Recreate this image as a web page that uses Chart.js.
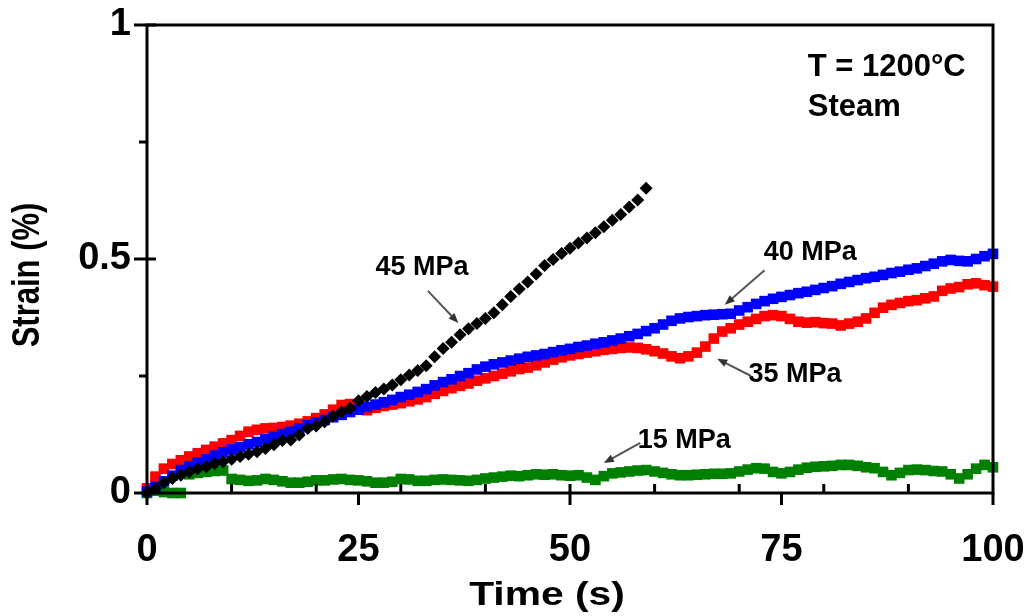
<!DOCTYPE html>
<html>
<head>
<meta charset="utf-8">
<script src="https://cdn.jsdelivr.net/npm/chart.js@4.4.1/dist/chart.umd.min.js"></script>
<style>
  html, body { margin: 0; padding: 0; background: #fff; }
  #wrap { width: 1028px; height: 616px; }
</style>
</head>
<body>
<div id="wrap"><canvas id="chart" width="1028" height="616"></canvas></div>
<script>
// time in seconds, one reading per second
var timeS = [0,1,2,3,4,5,6,7,8,9,10,11,12,13,14,15,16,17,18,19,20,21,22,23,24,25,26,27,28,29,
  30,31,32,33,34,35,36,37,38,39,40,41,42,43,44,45,46,47,48,49,50,51,52,53,54,55,56,57,58,59,
  60,61,62,63,64,65,66,67,68,69,70,71,72,73,74,75,76,77,78,79,80,81,82,83,84,85,86,87,88,89,
  90,91,92,93,94,95,96,97,98,99,100];

// strain (%)
var strain45 = [0,0.01,0.022,0.031,0.038,0.045,0.052,0.056,0.063,0.067,0.072,0.078,0.083,0.088,0.095,
  0.103,0.112,0.113,0.124,0.138,0.143,0.152,0.164,0.173,0.181,0.197,0.206,0.215,0.222,0.231,
  0.242,0.252,0.262,0.272,0.291,0.309,0.322,0.338,0.351,0.362,0.373,0.385,0.402,0.42,0.436,
  0.451,0.468,0.486,0.499,0.512,0.523,0.534,0.545,0.556,0.569,0.583,0.595,0.611,0.626,0.651];

var strain40 = [0.003,0.013,0.025,0.037,0.049,0.057,0.065,0.072,0.08,0.087,0.093,0.098,0.104,0.109,0.115,
  0.12,0.126,0.131,0.138,0.145,0.151,0.156,0.162,0.167,0.173,0.178,0.184,0.189,0.194,0.199,
  0.205,0.21,0.216,0.222,0.23,0.237,0.243,0.25,0.256,0.264,0.27,0.275,0.279,0.283,0.287,
  0.291,0.294,0.297,0.301,0.305,0.308,0.312,0.315,0.319,0.322,0.326,0.33,0.335,0.34,0.346,
  0.352,0.36,0.368,0.373,0.376,0.378,0.38,0.381,0.382,0.383,0.39,0.397,0.404,0.41,0.415,
  0.419,0.423,0.427,0.43,0.434,0.438,0.442,0.447,0.451,0.455,0.459,0.462,0.466,0.47,0.473,
  0.477,0.48,0.485,0.49,0.495,0.498,0.496,0.495,0.5,0.506,0.511];

var strain35 = [0.01,0.035,0.052,0.062,0.07,0.078,0.085,0.092,0.099,0.106,0.113,0.122,0.131,0.135,0.138,
  0.139,0.141,0.144,0.148,0.153,0.16,0.168,0.178,0.188,0.19,0.18,0.177,0.182,0.186,0.189,
  0.192,0.196,0.2,0.205,0.212,0.218,0.224,0.229,0.234,0.24,0.245,0.25,0.255,0.26,0.265,
  0.268,0.273,0.279,0.285,0.29,0.294,0.297,0.3,0.303,0.306,0.308,0.31,0.311,0.31,0.307,
  0.303,0.298,0.292,0.288,0.292,0.3,0.313,0.33,0.345,0.352,0.36,0.366,0.372,0.378,0.38,
  0.378,0.372,0.366,0.364,0.365,0.363,0.362,0.358,0.362,0.366,0.373,0.385,0.396,0.402,0.406,
  0.41,0.412,0.416,0.42,0.432,0.437,0.44,0.446,0.448,0.444,0.441];

var strain15 = [0,0.005,0.002,0,0,0.04,0.043,0.045,0.047,0.048,0.03,0.028,0.026,0.027,0.03,
  0.028,0.025,0.022,0.022,0.024,0.027,0.027,0.029,0.03,0.028,0.027,0.025,0.022,0.022,0.024,
  0.03,0.029,0.026,0.026,0.028,0.029,0.028,0.027,0.026,0.028,0.031,0.033,0.035,0.037,0.036,
  0.038,0.04,0.039,0.04,0.038,0.037,0.038,0.033,0.028,0.036,0.042,0.044,0.046,0.048,0.049,
  0.046,0.043,0.04,0.038,0.038,0.039,0.04,0.041,0.041,0.042,0.046,0.05,0.053,0.052,0.045,
  0.042,0.045,0.05,0.054,0.056,0.057,0.058,0.06,0.06,0.058,0.055,0.053,0.045,0.038,0.043,
  0.049,0.05,0.049,0.047,0.046,0.04,0.031,0.04,0.052,0.06,0.055];

var xTickLabels = [0, 25, 50, 75, 100];
var yTickLabels = [0, 0.5, 1];
var seriesNames = ['45 MPa', '40 MPa', '35 MPa', '15 MPa'];

function toPoints(vals) {
  return vals.map(function (v, i) { return { x: timeS[i], y: v }; });
}

var FONT = '"Liberation Sans", Arial, sans-serif';

// label text (data coords) and arrow tail -> head (data coords)
var notes = [
  { text: seriesNames[0], x: 32.5, y: 0.481, ax: [33.2, 0.432, 36.8, 0.363] },
  { text: seriesNames[1], x: 78.4, y: 0.513, ax: [73.0, 0.476, 68.3, 0.402] },
  { text: seriesNames[2], x: 76.6, y: 0.254, ax: [71.4, 0.250, 67.4, 0.287] },
  { text: seriesNames[3], x: 63.5, y: 0.113, ax: [58.3, 0.107, 54.0, 0.064] }
];

function drawArrow(ctx, x1, y1, x2, y2) {
  var ang = Math.atan2(y2 - y1, x2 - x1), len = 10, wid = 4;
  ctx.strokeStyle = '#555';
  ctx.fillStyle = '#333';
  ctx.lineWidth = 2;
  ctx.beginPath();
  ctx.moveTo(x1, y1);
  ctx.lineTo(x2 - Math.cos(ang) * len * 0.8, y2 - Math.sin(ang) * len * 0.8);
  ctx.stroke();
  ctx.beginPath();
  ctx.moveTo(x2, y2);
  ctx.lineTo(x2 - Math.cos(ang) * len - Math.sin(ang) * wid, y2 - Math.sin(ang) * len + Math.cos(ang) * wid);
  ctx.lineTo(x2 - Math.cos(ang) * len + Math.sin(ang) * wid, y2 - Math.sin(ang) * len - Math.cos(ang) * wid);
  ctx.closePath();
  ctx.fill();
}

var decor = {
  id: 'decor',
  afterDatasetsDraw: function (chart) {
    var ctx = chart.ctx, a = chart.chartArea, xs = chart.scales.x, ys = chart.scales.y;
    var t, v, p;
    ctx.save();
    ctx.strokeStyle = '#000';
    ctx.lineWidth = 3;
    ctx.strokeRect(a.left, a.top, a.right - a.left, a.bottom - a.top);

    ctx.beginPath();
    // x: major ticks outside, minor ticks inside
    for (t = 0; t <= 100; t += 25) {
      p = xs.getPixelForValue(t);
      ctx.moveTo(p, a.bottom); ctx.lineTo(p, a.bottom + 12);
    }
    for (t = 10; t < 100; t += 10) {
      p = xs.getPixelForValue(t);
      ctx.moveTo(p, a.bottom); ctx.lineTo(p, a.bottom - 9);
    }
    // y: major ticks cross, minor ticks outside
    for (v = 0; v <= 1; v += 0.5) {
      p = ys.getPixelForValue(v);
      ctx.moveTo(a.left - 13, p); ctx.lineTo(a.left + 9, p);
    }
    for (v = 0.25; v < 1; v += 0.5) {
      p = ys.getPixelForValue(v);
      ctx.moveTo(a.left - 8, p); ctx.lineTo(a.left, p);
    }
    ctx.stroke();

    // series labels with arrows
    ctx.font = 'bold 27px ' + FONT;
    ctx.textAlign = 'center';
    ctx.textBaseline = 'middle';
    notes.forEach(function (n) {
      ctx.fillStyle = '#000';
      ctx.fillText(n.text, xs.getPixelForValue(n.x), ys.getPixelForValue(n.y));
      drawArrow(ctx, xs.getPixelForValue(n.ax[0]), ys.getPixelForValue(n.ax[1]),
        xs.getPixelForValue(n.ax[2]), ys.getPixelForValue(n.ax[3]));
    });

    // conditions
    ctx.fillStyle = '#000';
    ctx.font = 'bold 31px ' + FONT;
    ctx.textAlign = 'left';
    ctx.fillText('T = 1200°C', xs.getPixelForValue(78.1), ys.getPixelForValue(0.909));
    ctx.fillText('Steam', xs.getPixelForValue(78.1), ys.getPixelForValue(0.823));

    // axis titles (slightly widened, like the original)
    ctx.textAlign = 'center';
    ctx.font = 'bold 34px ' + FONT;
    ctx.save();
    ctx.translate(547, 596);
    ctx.scale(1.2, 1);
    ctx.fillText('Time (s)', 0, 0);
    ctx.restore();
    ctx.font = 'bold 31px ' + FONT;
    ctx.translate(28, 275);
    ctx.scale(1.25, 1);
    ctx.rotate(-Math.PI / 2);
    ctx.fillText('Strain (%)', 0, 0);
    ctx.restore();
  }
};

function series(label, vals, color, style, r) {
  return {
    label: label,
    data: toPoints(vals),
    showLine: false,
    pointStyle: style,
    pointRadius: r,
    pointHoverRadius: r,
    pointBackgroundColor: color,
    pointBorderColor: color,
    pointBorderWidth: 0,
    clip: false
  };
}

// keep the plot box fixed: no extra room for overhanging tick labels
function fixBox(size, key) {
  return function (s) {
    s[key] = size;
    s.paddingLeft = 0; s.paddingRight = 0; s.paddingTop = 0; s.paddingBottom = 0;
  };
}

new Chart(document.getElementById('chart'), {
  type: 'scatter',
  data: {
    datasets: [
      series(seriesNames[0], strain45, '#000000', 'rectRot', 6.5),
      series(seriesNames[1], strain40, '#0000ff', 'rect', 7.5),
      series(seriesNames[2], strain35, '#ff0000', 'rect', 7.5),
      series(seriesNames[3], strain15, '#008000', 'rect', 7.5)
    ]
  },
  options: {
    responsive: false,
    animation: false,
    layout: { autoPadding: false, padding: { top: 25, right: 35, left: 0, bottom: 0 } },
    plugins: { legend: { display: false }, tooltip: { enabled: false } },
    scales: {
      x: {
        type: 'linear', min: 0, max: 100,
        afterBuildTicks: function (s) { s.ticks = xTickLabels.map(function (v) { return { value: v }; }); },
        afterFit: fixBox(123, 'height'),
        grid: { display: false, drawTicks: false },
        border: { display: false },
        ticks: {
          padding: 35, color: '#000', font: { family: FONT, size: 38, weight: 'bold' },
          callback: function (v) { return String(v); }
        }
      },
      y: {
        type: 'linear', min: 0, max: 1,
        afterBuildTicks: function (s) { s.ticks = yTickLabels.map(function (v) { return { value: v }; }); },
        afterFit: fixBox(147, 'width'),
        grid: { display: false, drawTicks: false },
        border: { display: false },
        ticks: {
          padding: 16, color: '#000', font: { family: FONT, size: 38, weight: 'bold' },
          callback: function (v) { return String(v); }
        }
      }
    }
  },
  plugins: [decor]
});
</script>
</body>
</html>
